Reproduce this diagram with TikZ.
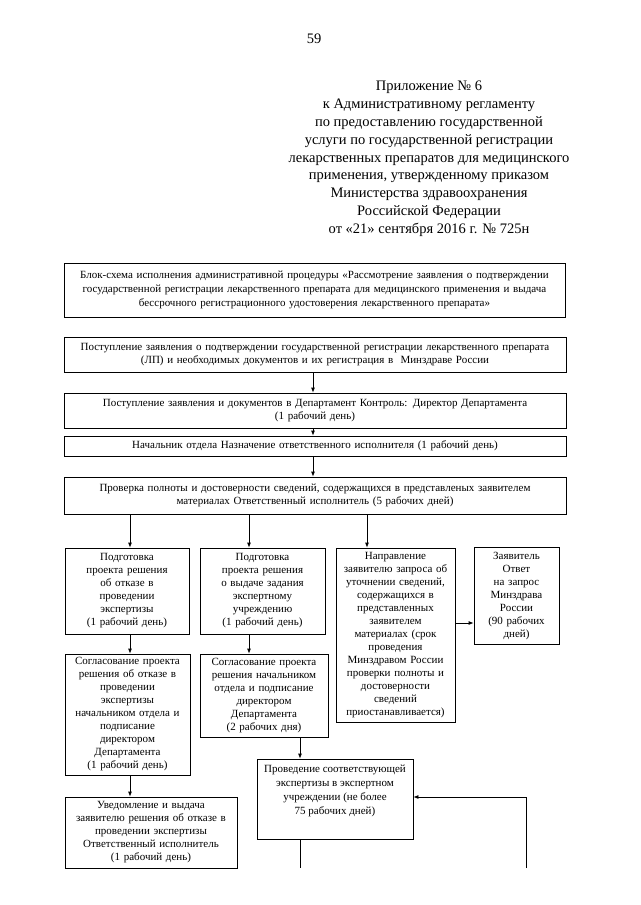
\documentclass[tikz,border=0pt]{standalone}
\usepackage{fontspec}
\setmainfont{Liberation Serif}
\usetikzlibrary{arrows.meta}
\begin{document}
\begin{tikzpicture}[x=1pt,y=-1pt,
  box/.style={draw, line width=0.8pt, inner xsep=2pt, inner ysep=0pt, align=center,
    font=\fontsize{11}{13}\selectfont},
  arr/.style={line width=0.8pt, -{Latex[length=5pt,width=4pt]}},
  ln/.style={line width=0.8pt}]
\useasboundingbox (0,0) rectangle (640,905);
\fill[white] (0,0) rectangle (640,905);
\node[font=\fontsize{14.5}{17.8}\selectfont] (pg) at (314,39) {59};
\node[anchor=north, align=center, inner sep=0pt, font=\fontsize{14.5}{17.8}\selectfont] (hdr) at (429,81)
 {Приложение № 6\\
  к Административному регламенту\\
  по предоставлению государственной\\
  услуги по государственной регистрации\\
  лекарственных препаратов для медицинского\\
  применения, утвержденному приказом\\
  Министерства здравоохранения\\
  Российской Федерации\\
  от «21» сентября 2016 г. № 725н};
% wide boxes
\node[box, text width=497pt, minimum height=54pt, font=\fontsize{11}{14}\selectfont] (b1) at (314.5,290)
 {Блок-схема исполнения административной процедуры «Рассмотрение заявления о подтверждении\\
  государственной регистрации лекарственного препарата для медицинского применения и выдача\\
  бессрочного регистрационного удостоверения лекарственного препарата»};
\node[box, text width=498pt, minimum height=35pt] (b2) at (315,354.5)
 {Поступление заявления о подтверждении государственной регистрации лекарственного препарата\\
  (ЛП) и необходимых документов и их регистрация в\ \ Минздраве России};
\node[box, text width=498pt, minimum height=35pt] (b3) at (315,410.5)
 {Поступление заявления и документов в Департамент Контроль: Директор Департамента\\
  (1 рабочий день)};
\node[box, text width=498pt, minimum height=20pt] (b4) at (315,446)
 {Начальник отдела Назначение ответственного исполнителя (1 рабочий день)};
\node[box, text width=498pt, minimum height=37pt] (b5) at (315,495.5)
 {Проверка полноты и достоверности сведений, содержащихся в представленых заявителем\\
  материалах Ответственный исполнитель (5 рабочих дней)};
% second row
\node[box, text width=120pt, minimum height=86pt] (b6a) at (127,591)
 {Подготовка\\ проекта решения\\ об отказе в\\ проведении\\ экспертизы\\ (1 рабочий день)};
\node[box, text width=121pt, minimum height=86pt] (b6b) at (262.5,591)
 {Подготовка\\ проекта решения\\ о выдаче задания\\ экспертному\\ учреждению\\ (1 рабочий день)};
\node[box, text width=115pt, minimum height=174pt] (b6c) at (395.5,635)
 {Направление\\ заявителю запроса об\\ уточнении сведений,\\ содержащихся в\\ представленных\\ заявителем\\ материалах (срок\\ проведения\\ Минздравом России\\ проверки полноты и\\ достоверности\\ сведений\\ приостанавливается)};
\node[box, text width=81pt, minimum height=97pt] (b6d) at (516.5,596)
 {Заявитель\\ Ответ\\ на запрос\\ Минздрава\\ России\\ (90 рабочих\\ дней)};
% third row
\node[box, text width=121pt, minimum height=121pt] (b7a) at (127.5,714.5)
 {Согласование проекта\\ решения об отказе в\\ проведении\\ экспертизы\\ начальником отдела и\\ подписание\\ директором\\ Департамента\\ (1 рабочий день)};
\node[box, text width=124pt, minimum height=83pt] (b7b) at (264,695.5)
 {Согласование проекта\\ решения начальником\\ отдела и подписание\\ директором\\ Департамента\\ (2 рабочих дня)};
\node[box, text width=152pt, minimum height=80pt] (b8) at (335,799) {};
\node[anchor=north, align=center, inner sep=0pt, font=\fontsize{11}{14}\selectfont] (b8t) at ([yshift=-6pt]b8.north)
 {Проведение соответствующей\\ экспертизы в экспертном\\ учреждении (не более\\ 75 рабочих дней)};
\node[box, text width=168pt, minimum height=71pt] (b9) at (151,832.5)
 {Уведомление и выдача\\ заявителю решения об отказе в\\ проведении экспертизы\\ Ответственный исполнитель\\ (1 рабочий день)};
% helper coordinates
\coordinate (x313) at (313,0);
\coordinate (x130) at (130,0);
\coordinate (x249) at (249,0);
\coordinate (x367) at (367,0);
\coordinate (x300) at (300,0);
\coordinate (y623) at (0,623);
\coordinate (e1) at (300,868);
\coordinate (e2) at (526,868);
\coordinate (c2) at (526,797);
% connectors
\draw[arr] (x313 |- b2.south) -- (x313 |- b3.north);
\draw[arr] (x313 |- b3.south) -- (x313 |- b4.north);
\draw[arr] (x313 |- b4.south) -- (x313 |- b5.north);
\draw[arr] (x130 |- b5.south) -- (x130 |- b6a.north);
\draw[arr] (x249 |- b5.south) -- (x249 |- b6b.north);
\draw[arr] (x367 |- b5.south) -- (x367 |- b6c.north);
\draw[arr] (b6c.east |- y623) -- (b6d.west |- y623);
\draw[arr] (x130 |- b6a.south) -- (x130 |- b7a.north);
\draw[arr] (x249 |- b6b.south) -- (x249 |- b7b.north);
\draw[arr] (x130 |- b7a.south) -- (x130 |- b9.north);
\draw[arr] (x300 |- b7b.south) -- (x300 |- b8.north);
\draw[ln] (x300 |- b8.south) -- (e1);
\draw[arr] (e2) -- (c2) -- (b8.east |- c2);
\end{tikzpicture}
\end{document}
